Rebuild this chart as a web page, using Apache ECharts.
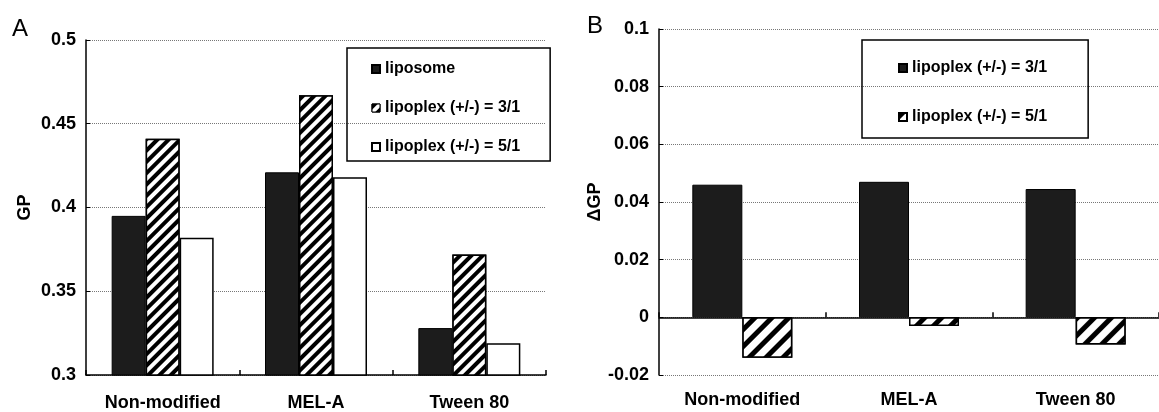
<!DOCTYPE html>
<html>
<head>
<meta charset="utf-8">
<script src="https://cdn.jsdelivr.net/npm/echarts@6/dist/echarts.min.js"></script>
<style>
  html, body { margin: 0; padding: 0; background: #fff; }
  #main { width: 1159px; height: 412px; }
</style>
</head>
<body>
<div id="main"></div>
<script>
// data
const categories = ['Non-modified', 'MEL-A', 'Tween 80'];
const gpLiposome = [0.395, 0.421, 0.328];
const gpLipoplex31 = [0.441, 0.467, 0.372];
const gpLipoplex51 = [0.382, 0.418, 0.319];
const dgpLipoplex31 = [0.046, 0.047, 0.0445];
const dgpLipoplex51 = [-0.014, -0.003, -0.0094];

const font = 'Liberation Sans, Arial, sans-serif';
const black = '#1c1c1c';

const hatchA = {
  symbol: 'rect', symbolSize: 1, dashArrayX: [1, 0], dashArrayY: [3.5, 4],
  rotation: -Math.PI / 4, color: '#000', backgroundColor: '#fff'
};
const hatchB = {
  symbol: 'rect', symbolSize: 1, dashArrayX: [1, 0], dashArrayY: [5, 7],
  rotation: -Math.PI / 4, color: '#000', backgroundColor: '#fff'
};

const axisLabel = { color: '#000', fontFamily: font, fontWeight: 'bold', fontSize: 18 };
const splitLine = { show: true, lineStyle: { color: '#777', type: 'dotted', width: 1 } };
const axisLine = { show: true, onZero: false, lineStyle: { color: '#000', width: 1.5 } };

const chart = echarts.init(document.getElementById('main'));
chart.setOption({
  animation: false,
  backgroundColor: '#fff',
  title: [
    { text: 'A', left: 12, top: 17, padding: 0,
      textStyle: { fontFamily: font, fontWeight: 'normal', fontSize: 24, color: '#000' } },
    { text: 'B', left: 587, top: 14, padding: 0,
      textStyle: { fontFamily: font, fontWeight: 'normal', fontSize: 24, color: '#000' } }
  ],
  grid: [
    { left: 86, top: 40, width: 460, height: 335 },
    { left: 659, top: 29, width: 513, height: 346 }
  ],
  legend: [
    {
      orient: 'vertical', left: 347, top: 48,
      padding: [13, 30, 6, 24], itemGap: 23, itemWidth: 8, itemHeight: 8, icon: 'rect',
      borderColor: '#000', borderWidth: 1.5, selectedMode: false,
      textStyle: { fontFamily: font, fontWeight: 'bold', fontSize: 16, color: '#000' },
      data: [
        { name: 'liposome' },
        { name: 'lipoplex (+/-) = 3/1', itemStyle: { color: '#fff', borderColor: '#000', borderWidth: 1, decal: null } },
        { name: 'lipoplex (+/-) = 5/1' }
      ]
    },
    {
      orient: 'vertical', left: 862, top: 40,
      padding: [20, 41, 13, 36], itemGap: 33, itemWidth: 8, itemHeight: 8, icon: 'rect',
      borderColor: '#000', borderWidth: 1.5, selectedMode: false,
      textStyle: { fontFamily: font, fontWeight: 'bold', fontSize: 16, color: '#000' },
      formatter: function (name) { return name.trim(); },
      data: ['lipoplex (+/-) = 3/1 ', 'lipoplex (+/-) = 5/1 ']
    }
  ],
  xAxis: [
    {
      type: 'category', gridIndex: 0, data: categories,
      axisLine: axisLine,
      axisTick: { show: true, inside: true, length: 5, lineStyle: { color: '#000', width: 1.5 } },
      axisLabel: Object.assign({ margin: 19 }, axisLabel)
    },
    {
      type: 'category', gridIndex: 1, data: categories, position: 'bottom',
      axisLine: { show: false, onZero: false },
      axisTick: { show: false },
      axisLabel: Object.assign({ margin: 16 }, axisLabel)
    },
    {
      type: 'category', gridIndex: 1, data: categories, position: 'bottom',
      axisLine: { show: true, onZero: true, lineStyle: { color: '#000', width: 1.5 } },
      axisTick: { show: true, inside: true, length: 5, lineStyle: { color: '#000', width: 1.5 } },
      axisLabel: { show: false }
    }
  ],
  yAxis: [
    {
      type: 'value', gridIndex: 0, min: 0.3, max: 0.5, interval: 0.05,
      name: 'GP', nameLocation: 'middle', nameGap: 52,
      nameTextStyle: { fontFamily: font, fontWeight: 'bold', fontSize: 18, color: '#000' },
      axisLine: axisLine,
      axisTick: { show: true, inside: true, length: 4, lineStyle: { color: '#000' } },
      axisLabel: Object.assign({ margin: 10 }, axisLabel),
      splitLine: splitLine
    },
    {
      type: 'value', gridIndex: 1, min: -0.02, max: 0.1, interval: 0.02,
      name: 'ΔGP', nameLocation: 'middle', nameGap: 51,
      nameTextStyle: { fontFamily: font, fontWeight: 'bold', fontSize: 18, color: '#000' },
      axisLine: axisLine,
      axisTick: { show: true, inside: true, length: 4, lineStyle: { color: '#000' } },
      axisLabel: Object.assign({ margin: 10 }, axisLabel),
      splitLine: splitLine
    }
  ],
  series: [
    {
      name: 'liposome', type: 'bar', xAxisIndex: 0, yAxisIndex: 0,
      data: gpLiposome, barWidth: 34, barGap: '0%',
      itemStyle: { color: black, borderColor: '#000', borderWidth: 1 }
    },
    {
      name: 'lipoplex (+/-) = 3/1', type: 'bar', xAxisIndex: 0, yAxisIndex: 0,
      data: gpLipoplex31, barWidth: 34, barGap: '0%',
      itemStyle: { color: '#fff', borderColor: '#000', borderWidth: 1.5, decal: hatchA }
    },
    {
      name: 'lipoplex (+/-) = 5/1', type: 'bar', xAxisIndex: 0, yAxisIndex: 0,
      data: gpLipoplex51, barWidth: 34, barGap: '0%',
      itemStyle: { color: '#fff', borderColor: '#000', borderWidth: 1.5 }
    },
    {
      name: 'lipoplex (+/-) = 3/1 ', type: 'bar', xAxisIndex: 1, yAxisIndex: 1,
      data: dgpLipoplex31, barWidth: 50, barGap: '0%',
      itemStyle: { color: black, borderColor: '#000', borderWidth: 1 }
    },
    {
      name: 'lipoplex (+/-) = 5/1 ', type: 'bar', xAxisIndex: 1, yAxisIndex: 1,
      data: dgpLipoplex51, barWidth: 50, barGap: '0%',
      itemStyle: { color: '#fff', borderColor: '#000', borderWidth: 1.5, decal: hatchB }
    }
  ]
});
</script>
</body>
</html>
